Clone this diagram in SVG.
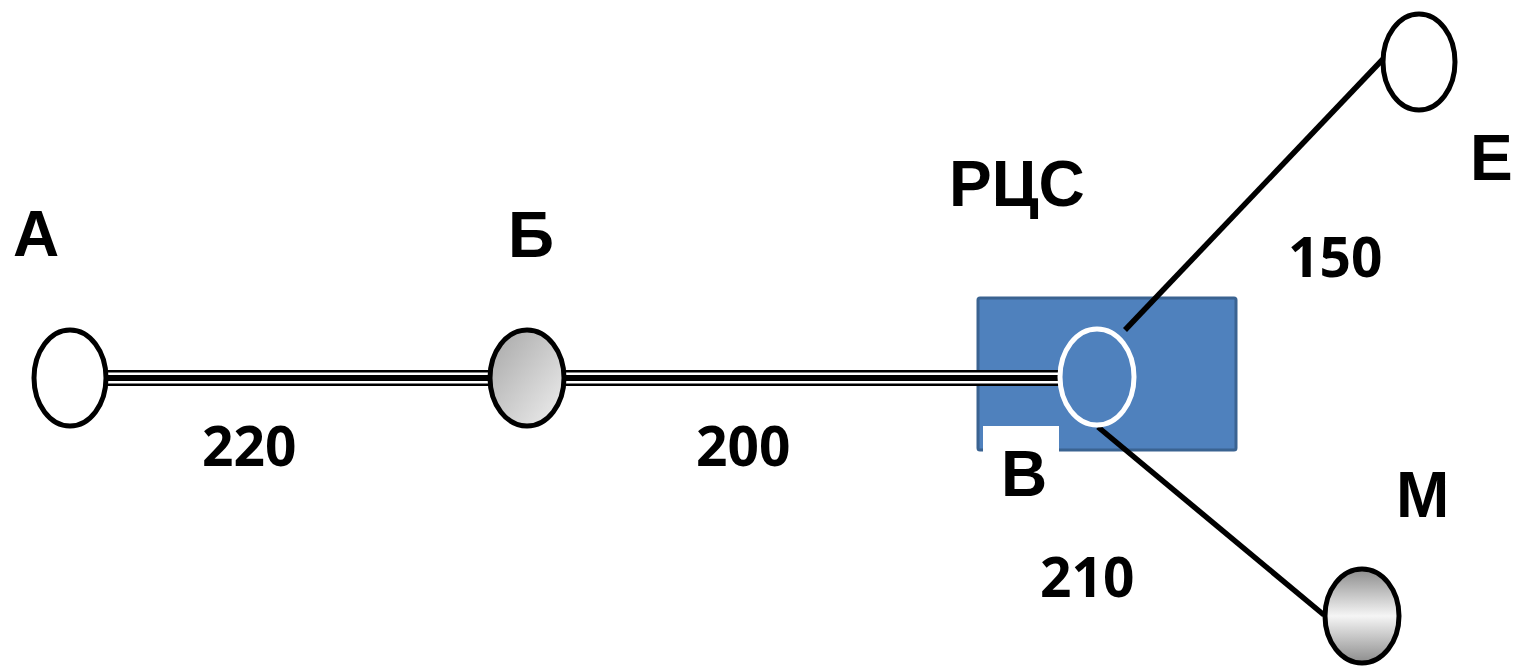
<svg xmlns="http://www.w3.org/2000/svg" width="1516" height="667" viewBox="0 0 1516 667">
<style>
.lbl{font-family:"Liberation Sans",Arial,sans-serif;font-weight:bold;font-size:64px;fill:#000}
.num{font-family:"Open Sans","Liberation Sans",sans-serif;font-weight:bold;font-size:55px;fill:#000}
.node{stroke:#000;stroke-width:5}
.wire{stroke:#000;stroke-width:5.5;fill:none}
</style>
<defs>
<linearGradient id="gB" x1="0" y1="0" x2="1" y2="1">
<stop offset="0" stop-color="#a6a6a6"/><stop offset="1" stop-color="#f0f0f0"/>
</linearGradient>
<linearGradient id="gM" x1="0" y1="0" x2="0" y2="1">
<stop offset="0" stop-color="#8c8c8c"/><stop offset="0.5" stop-color="#f5f5f5"/><stop offset="1" stop-color="#8c8c8c"/>
</linearGradient>
</defs>
<g id="rcs-box">
<rect x="978" y="298" width="258" height="152" rx="2" fill="#4f81bd" stroke="#3a6391" stroke-width="3"/>
<rect x="983" y="426" width="76" height="30" fill="#fff"/>
</g>
<g id="connectors">
<g id="trunk">
<line x1="107" y1="378" x2="1059" y2="378" stroke="#000" stroke-width="16"/>
<line x1="107" y1="378" x2="1059" y2="378" stroke="#fff" stroke-width="11"/>
<line x1="107" y1="378" x2="1059" y2="378" stroke="#000" stroke-width="6"/>
</g>
<line class="wire" x1="1125" y1="330" x2="1384" y2="58"/>
<line class="wire" x1="1098" y1="427" x2="1324" y2="615"/>
</g>
<g id="node-A"><ellipse class="node" cx="70" cy="378" rx="36" ry="48" fill="#fff"/><text class="lbl" x="13" y="256">А</text></g>
<g id="node-B"><ellipse class="node" cx="527" cy="378" rx="37" ry="48" fill="url(#gB)"/><text class="lbl" x="508" y="257">Б</text></g>
<g id="node-V"><ellipse cx="1097" cy="377" rx="37" ry="48" fill="#4f81bd" stroke="#fff" stroke-width="5"/><text class="lbl" x="1001" y="496">В</text></g>
<g id="node-RCS"><text class="lbl" x="949" y="206">РЦС</text></g>
<g id="node-E"><ellipse class="node" cx="1419" cy="62" rx="36" ry="48" fill="#fff"/><text class="lbl" x="1470" y="180">Е</text></g>
<g id="node-M"><ellipse class="node" cx="1362" cy="616" rx="37" ry="47" fill="url(#gM)"/><text class="lbl" x="1396" y="517">М</text></g>
<g id="labels">
<text class="num" x="202" y="466">220</text>
<text class="num" x="696" y="466">200</text>
<text class="num" x="1288" y="277">150</text>
<text class="num" x="1040" y="597">210</text>
</g>
</svg>
